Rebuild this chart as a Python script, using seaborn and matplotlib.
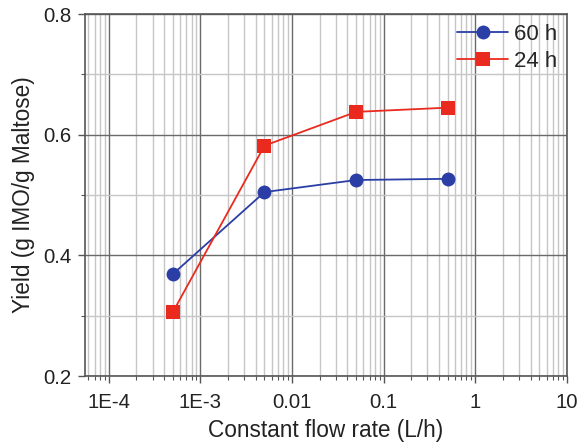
import matplotlib
matplotlib.use("Agg")
import matplotlib.pyplot as plt
import seaborn as sns
import pandas as pd
from matplotlib.ticker import LogLocator, FixedLocator, NullFormatter

sns.set_style("white")
plt.rcParams['font.family'] = ['Liberation Sans', 'DejaVu Sans']

flow = [5e-4, 5e-3, 5e-2, 5e-1]
yield_60h = [0.369, 0.505, 0.525, 0.527]
yield_24h = [0.306, 0.582, 0.638, 0.645]
x_ticks = [1e-4, 1e-3, 1e-2, 1e-1, 1, 10]
x_tick_labels = ["1E-4", "1E-3", "0.01", "0.1", "1", "10"]
y_ticks = [0.2, 0.4, 0.6, 0.8]
y_tick_labels = ["0.2", "0.4", "0.6", "0.8"]

df = pd.DataFrame({
    "flow": flow * 2,
    "yield": yield_60h + yield_24h,
    "series": ["60 h"] * len(flow) + ["24 h"] * len(flow),
})

fig = plt.figure(figsize=(5.83, 4.43), dpi=100)
ax = fig.add_axes([0.1458, 0.1512, 0.8268, 0.8168])

palette = {"60 h": "#2a3ea6", "24 h": "#ea2a1e"}
markers = {"60 h": "o", "24 h": "s"}
sns.lineplot(data=df, x="flow", y="yield", hue="series", style="series",
             palette=palette, markers=markers, dashes=False, markersize=10,
             markeredgewidth=0, linewidth=1.3, ax=ax, zorder=3,
             hue_order=["60 h", "24 h"], style_order=["60 h", "24 h"])

ax.set_xscale("log")
ax.set_xlim(5.5e-5, 10)
ax.set_ylim(0.2, 0.8)
ax.xaxis.set_major_locator(FixedLocator(x_ticks))
ax.set_xticklabels(x_tick_labels)
ax.xaxis.set_minor_locator(LogLocator(base=10, subs=range(2, 10), numticks=20))
ax.xaxis.set_minor_formatter(NullFormatter())
ax.set_yticks(y_ticks)
ax.set_yticklabels(y_tick_labels)
ax.yaxis.set_minor_locator(FixedLocator([0.3, 0.5, 0.7]))

ax.grid(True, which="major", color="#6a6a6a", linewidth=1.0, zorder=0)
ax.grid(True, which="minor", color="#c6c6c6", linewidth=1.0, zorder=0)
ax.set_axisbelow(True)

ax.tick_params(axis="both", which="major", direction="out", length=5, width=1,
               color="#555555", labelsize=14.7, bottom=True, left=True,
               labelcolor="#222222")
ax.tick_params(axis="x", which="major", pad=7)
ax.tick_params(axis="y", which="major", pad=5)
ax.tick_params(axis="both", which="minor", direction="out", length=3, width=0.8,
               color="#555555", bottom=True, left=True)

for s in ax.spines.values():
    s.set_color("#555555")
    s.set_linewidth(1.2)

ax.set_xlabel("Constant flow rate (L/h)", fontsize=16.3, color="#222222", labelpad=5)
ax.set_ylabel("Yield (g IMO/g Maltose)", fontsize=16.3, color="#222222", labelpad=6)

leg = ax.legend(loc="upper right", frameon=False, fontsize=16, handlelength=2.3,
                handletextpad=0.25, borderaxespad=0.05, labelspacing=0.25)

fig.savefig("out.png", dpi=100)
